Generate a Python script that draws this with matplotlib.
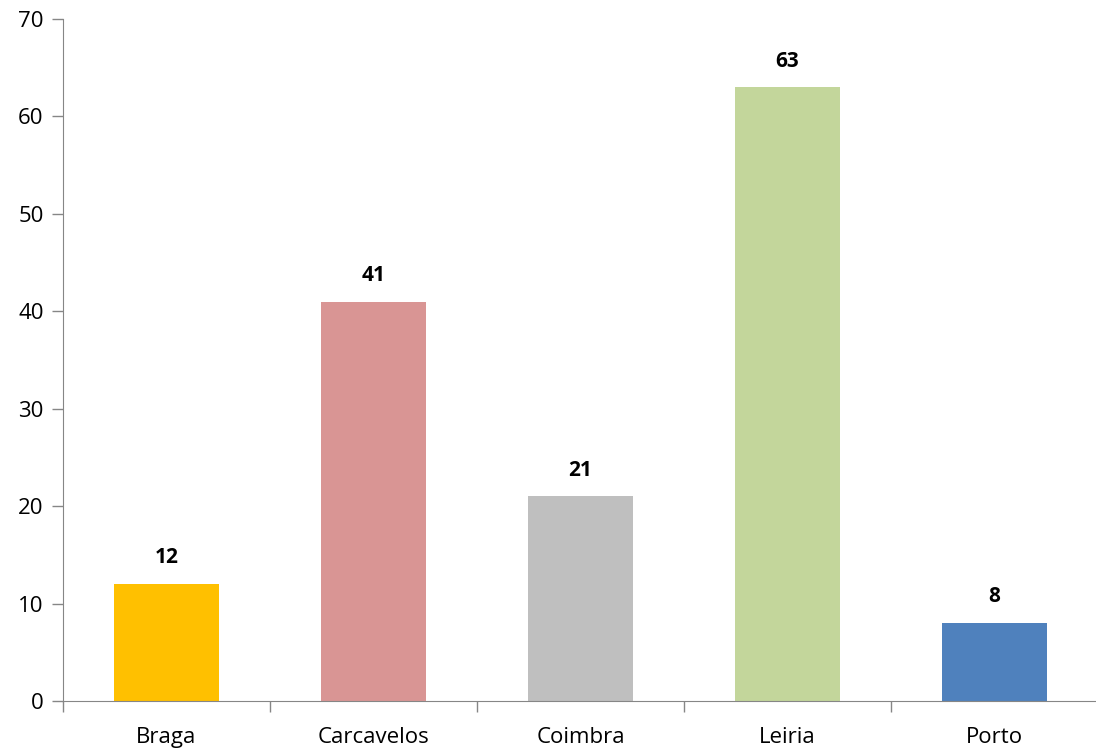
import matplotlib
matplotlib.use('Agg')
import matplotlib.pyplot as plt
from matplotlib.ticker import FixedLocator

cities = ['Braga', 'Carcavelos', 'Coimbra', 'Leiria', 'Porto']
values = [12, 41, 21, 63, 8]
colors = ['#FFC000', '#D99594', '#BFBFBF', '#C3D69B', '#4F81BD']

plt.rcParams['font.family'] = ['Open Sans', 'DejaVu Sans']

fig = plt.figure(figsize=(10.96, 7.51), dpi=100)
ax = fig.add_axes([63/1096, 50/751, 1035/1096, 682/751])

x = range(len(cities))
bars = ax.bar(x, values, width=0.51, color=colors)
for b, v in zip(bars, values):
    ax.text(b.get_x() + b.get_width()/2, v + 1.6, str(v), ha='center', va='bottom',
            fontsize=15, fontweight='bold')

ax.set_xlim(-0.5, 4.5)
ax.set_ylim(0, 70)
ax.set_yticks(range(0, 71, 10))
ax.set_xticks(list(x))
ax.set_xticklabels(cities)
ax.xaxis.set_minor_locator(FixedLocator([i - 0.5 for i in range(6)]))
ax.tick_params(axis='x', which='major', length=0, labelsize=16, pad=19)
ax.tick_params(axis='x', which='minor', length=8, color='#868686', width=1)
ax.tick_params(axis='y', length=8, color='#868686', width=1, labelsize=16, pad=6)
for s in ['top', 'right']:
    ax.spines[s].set_visible(False)
for s in ['left', 'bottom']:
    ax.spines[s].set_color('#868686')

fig.savefig('out.png', dpi=100)
